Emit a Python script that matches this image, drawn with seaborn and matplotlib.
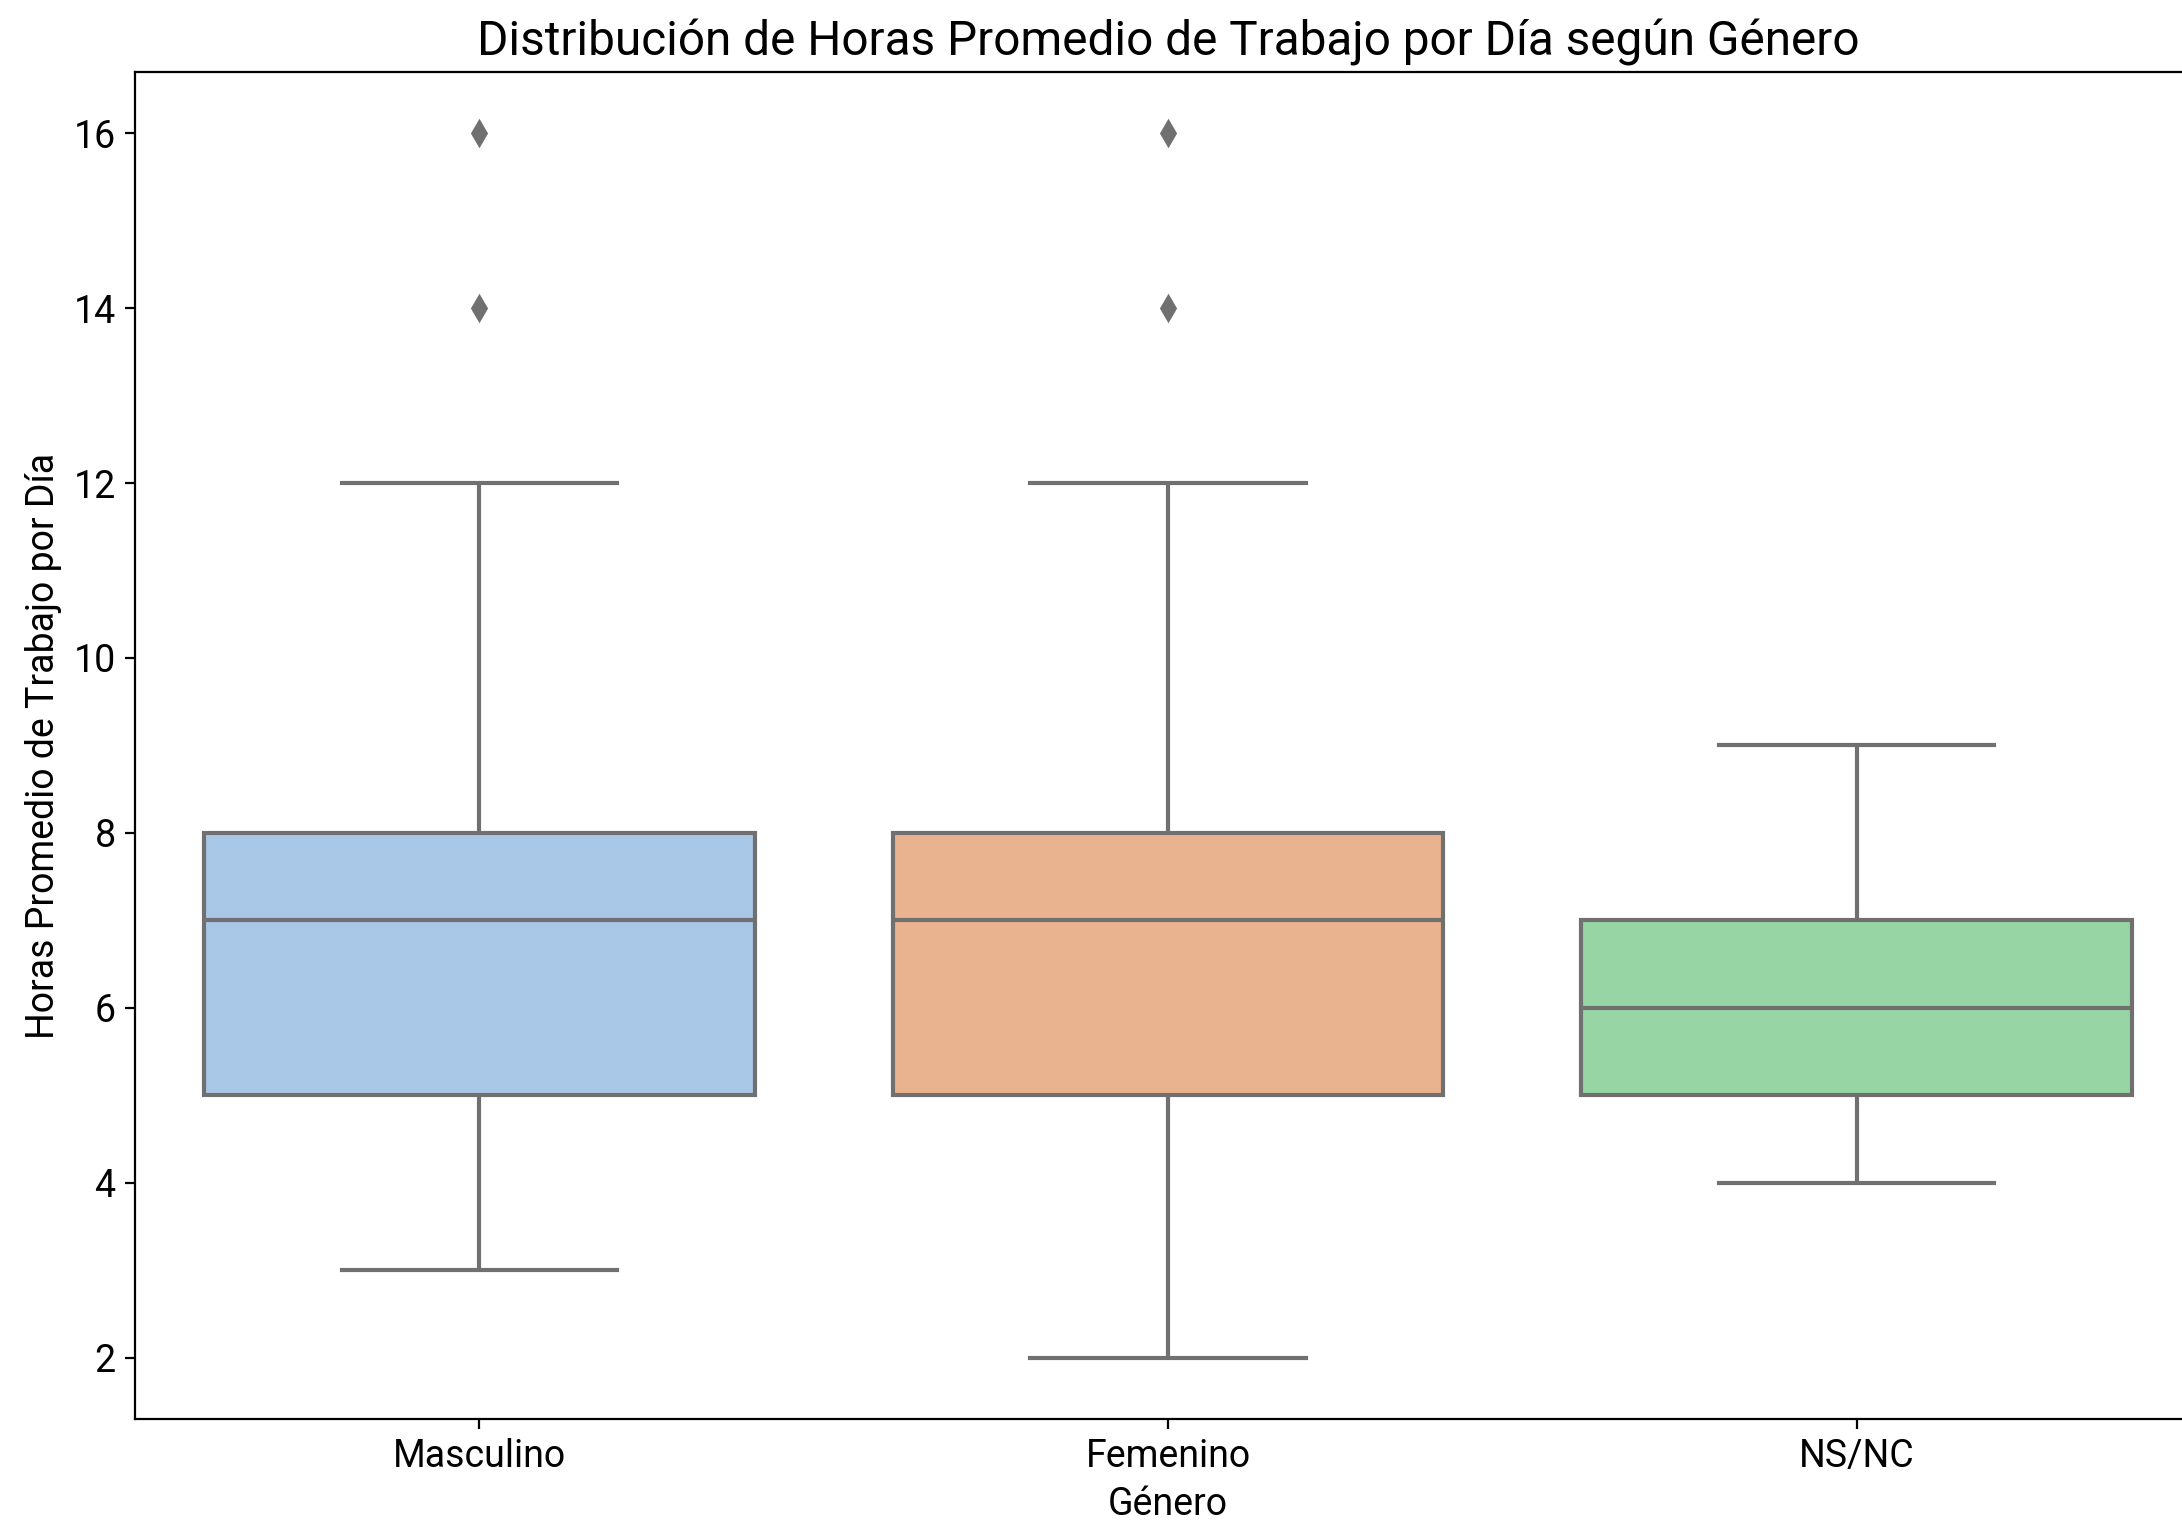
import pandas as pd
import seaborn as sns
import matplotlib.pyplot as plt

# Horas promedio de trabajo por día
generos = ["Masculino", "Femenino", "NS/NC"]
horas_masculino = [3, 4, 5, 5, 5, 5, 6, 6, 7, 7, 7, 7, 8, 8, 8, 8, 9, 10, 12, 14, 16]
horas_femenino = [2, 4, 5, 5, 5, 5, 6, 6, 7, 7, 7, 7, 8, 8, 8, 8, 9, 10, 12, 14, 16]
horas_nsnc = [4, 5, 5, 6, 6, 6, 7, 8, 9]
colores = ["#a9c7e6", "#eab38f", "#97d6a4"]

plt.rcParams['font.family'] = ['Roboto', 'DejaVu Sans']

df = pd.concat([
    pd.DataFrame({"Género": "Masculino", "Horas": horas_masculino}),
    pd.DataFrame({"Género": "Femenino", "Horas": horas_femenino}),
    pd.DataFrame({"Género": "NS/NC", "Horas": horas_nsnc}),
])

fig = plt.figure(figsize=(2182 / 200, 1521 / 200), dpi=200)
ax = fig.add_axes([0.0619, 0.0671, 0.9468, 0.8856])

sns.boxplot(data=df, x="Género", y="Horas", hue="Género", order=generos,
            palette=colores, saturation=1, legend=False, ax=ax, width=0.8,
            linecolor="#707070", linewidth=1.5,
            flierprops={"marker": "d", "markerfacecolor": "#707070",
                        "markeredgecolor": "#707070", "markersize": 6})

ax.set_title("Distribución de Horas Promedio de Trabajo por Día según Género", fontsize=17.2)
ax.set_xlabel("Género", fontsize=13.5)
ax.set_ylabel("Horas Promedio de Trabajo por Día", fontsize=13.5)
ax.tick_params(labelsize=13.5)

fig.savefig("out.png", dpi=200)
